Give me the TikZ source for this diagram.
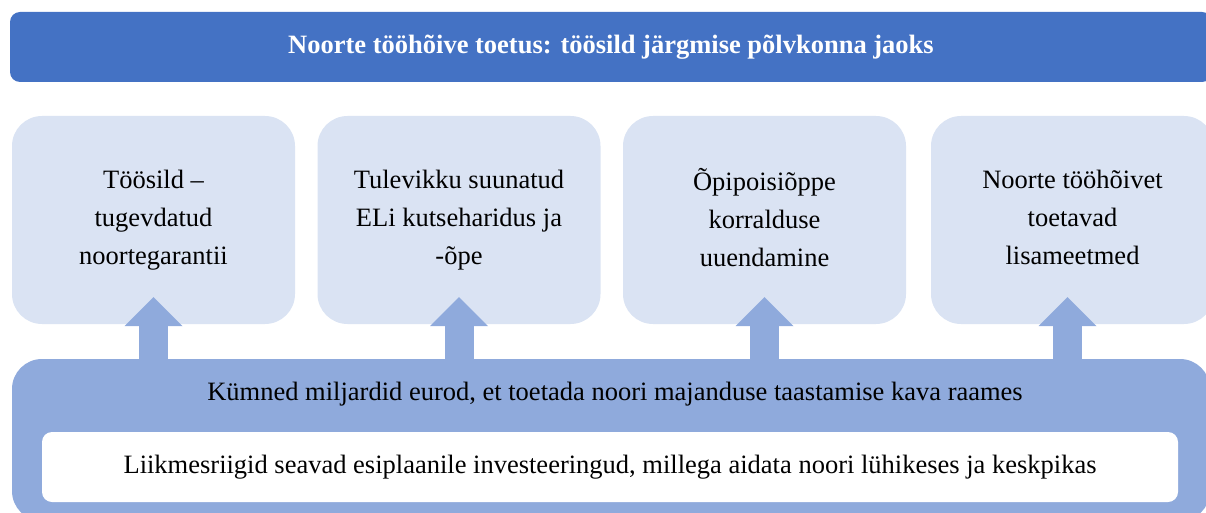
\documentclass[tikz,border=0pt]{standalone}
\usepackage{fontspec}
\setmainfont{Liberation Serif}
\usepackage{tikz}
\usetikzlibrary{arrows.meta}

\definecolor{darkblue}{HTML}{4472C4}
\definecolor{midblue}{HTML}{8FAADC}
\definecolor{paleblue}{HTML}{DAE3F3}

\tikzset{
  topbar/.style = {fill=darkblue, rounded corners=10pt, minimum width=1202pt,
    minimum height=70pt, text=white, font=\fontsize{26.5}{30}\selectfont\bfseries},
  goalbox/.style = {fill=paleblue, rounded corners=30pt, minimum width=283pt,
    minimum height=208pt, align=center, font=\fontsize{26.5}{38}\selectfont,
    execute at begin node=\rule{0pt}{38pt},
    execute at end node=\rule[-6pt]{0pt}{6pt}},
  basebox/.style = {fill=midblue, rounded corners=30pt, minimum width=1198pt,
    minimum height=162pt},
  investbox/.style = {fill=white, rounded corners=10pt, minimum width=1136pt,
    minimum height=70pt, font=\fontsize{26.5}{30}\selectfont},
  uparrow/.style = {draw=midblue, line width=29pt,
    -{Triangle[width=58pt, length=29pt, line width=0pt]}}
}

\begin{document}
\begin{tikzpicture}[x=1pt, y=-1pt]
  \useasboundingbox (0,0) rectangle (1206,513);
  \clip (0,0) rectangle (1206,513);

  \node[topbar] (title) at (611,47) {Noorte tööhõive toetus: töösild järgmise põlvkonna jaoks};

  \node[goalbox] (bridge) at (153.5,220) {Töösild –\\tugevdatud\\noortegarantii};
  \node[goalbox] (vet) at (459,220) {Tulevikku suunatud\\ELi kutseharidus ja\\-õpe};
  \node[goalbox] (appr) at (764.5,220) {Õpipoisiõppe\\korralduse\\uuendamine};
  \node[goalbox] (extra) at (1072.5,220) {Noorte tööhõivet\\toetavad\\lisameetmed};

  \node[basebox] (base) at (611,440) {};
  \node[font=\fontsize{26.5}{30}\selectfont] (funds) at (615,394)
    {Kümned miljardid eurod, et toetada noori majanduse taastamise kava raames};
  \node[investbox] (invest) at (610,467)
    {Liikmesriigid seavad esiplaanile investeeringud, millega aidata noori lühikeses ja keskpikas};

  % arrows from the funds up to each measure
  \draw[uparrow] (bridge.south |- base.north) -- ([yshift=27pt]bridge.south);
  \draw[uparrow] (vet.south |- base.north) -- ([yshift=27pt]vet.south);
  \draw[uparrow] (appr.south |- base.north) -- ([yshift=27pt]appr.south);
  \draw[uparrow] ([xshift=-5pt]extra.south |- base.north) -- ([xshift=-5pt,yshift=27pt]extra.south);
\end{tikzpicture}
\end{document}
